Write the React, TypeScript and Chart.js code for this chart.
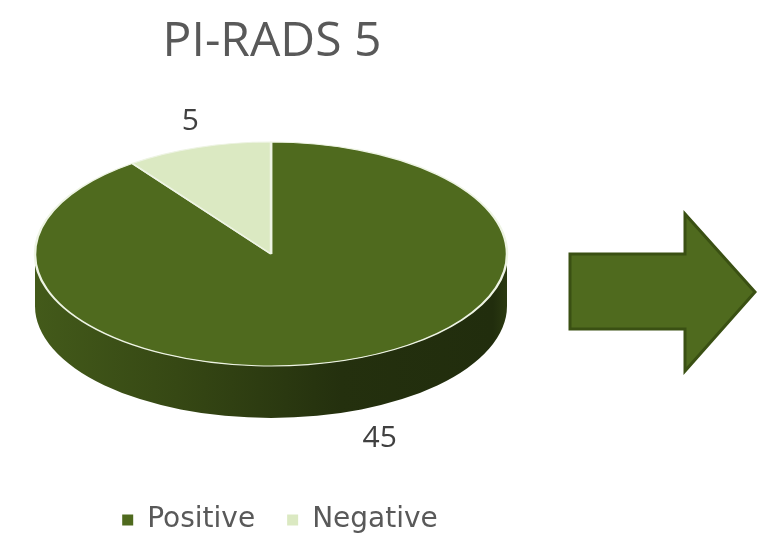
import React, { useEffect, useRef } from "react";
import { Chart, registerables } from "chart.js";

Chart.register(...registerables);

const TITLE = "PI-RADS 5";
const CATEGORIES = ["Positive", "Negative"];
const VALUES = [45, 5];
const COLORS = ["#4f6a1e", "#dbe9c2"];

// layout of the tilted pie (screen pixels)
const CX = 271;
const CY = 254;
const RX = 236;
const RY = 112;
const DEPTH = 52;
const LEGEND_SHIFT = 8;

function shade(hex: string, f: number) {
  const n = parseInt(hex.slice(1), 16);
  const r = Math.round(((n >> 16) & 255) * f);
  const g = Math.round(((n >> 8) & 255) * f);
  const b = Math.round((n & 255) * f);
  return `rgb(${r},${g},${b})`;
}

const pie3d = {
  id: "pie3d",
  afterLayout(chart: any) {
    if (chart.legend) {
      chart.legend.left += LEGEND_SHIFT;
      chart.legend.right += LEGEND_SHIFT;
    }
  },
  beforeDatasetsDraw(chart: any) {
    const ctx = chart.ctx;
    const meta = chart.getDatasetMeta(0);
    const arcs = meta.data;
    arcs.forEach((arc: any, i: number) => {
      const a1 = arc.startAngle;
      const a2 = arc.endAngle;
      const segs: [number, number][] = [];
      for (const k of [-2, 0, 2]) {
        const s = Math.max(a1 + k * Math.PI, 0);
        const e = Math.min(a2 + k * Math.PI, Math.PI);
        if (e > s) segs.push([s, e]);
      }
      const base = COLORS[i % COLORS.length];
      segs.forEach(([s, e]) => {
        const g = ctx.createLinearGradient(CX - RX, 0, CX + RX, 0);
        g.addColorStop(0, shade(base, 0.85));
        g.addColorStop(0.3, shade(base, 0.68));
        g.addColorStop(0.65, shade(base, 0.45));
        g.addColorStop(0.97, shade(base, 0.42));
        g.addColorStop(1, shade(base, 0.55));
        ctx.save();
        ctx.beginPath();
        ctx.ellipse(CX, CY, RX, RY, 0, s, e, false);
        ctx.lineTo(CX + RX * Math.cos(e), CY + DEPTH + RY * Math.sin(e));
        ctx.ellipse(CX, CY + DEPTH, RX, RY, 0, e, s, true);
        ctx.closePath();
        ctx.fillStyle = g;
        ctx.fill();
        ctx.restore();
      });
    });
    const arc0 = arcs[0];
    ctx.save();
    ctx.translate(CX, CY);
    ctx.scale(1, RY / RX);
    ctx.translate(-arc0.x, -arc0.y);
  },
  afterDatasetsDraw(chart: any) {
    const ctx = chart.ctx;
    ctx.restore();
    const meta = chart.getDatasetMeta(0);
    ctx.save();
    ctx.font = "30px 'Open Sans'";
    ctx.fillStyle = "#404040";
    ctx.textAlign = "center";
    ctx.textBaseline = "middle";
    meta.data.forEach((arc: any, i: number) => {
      const mid = (arc.startAngle + arc.endAngle) / 2;
      const c = Math.cos(mid);
      const s = Math.sin(mid);
      const x = CX + (RX * 0.98 + 30) * c + (c > 0 ? 28 : 0);
      let y = CY + (RY * 0.98 + 30) * s;
      if (s > 0) y += DEPTH;
      ctx.fillText(String(VALUES[i]), x, y);
    });
    ctx.restore();
  },
  afterDraw(chart: any) {
    const ctx = chart.ctx;
    ctx.save();
    ctx.beginPath();
    ctx.moveTo(570, 254);
    ctx.lineTo(685, 254);
    ctx.lineTo(685, 214);
    ctx.lineTo(755, 292);
    ctx.lineTo(685, 371);
    ctx.lineTo(685, 329);
    ctx.lineTo(570, 329);
    ctx.closePath();
    ctx.fillStyle = "#4f6a1e";
    ctx.fill();
    ctx.lineWidth = 3;
    ctx.lineJoin = "miter";
    ctx.strokeStyle = "#3a5013";
    ctx.stroke();
    ctx.restore();
  },
};

export default function App() {
  const ref = useRef<HTMLCanvasElement | null>(null);
  useEffect(() => {
    document.body.style.margin = "0";
    const canvas = ref.current!;
    const chart = new Chart(canvas, {
      type: "pie",
      data: {
        labels: CATEGORIES,
        datasets: [
          {
            data: VALUES,
            backgroundColor: COLORS,
            borderColor: "#eef4e4",
            borderWidth: 2.5,
            radius: RX,
            clip: false,
          } as any,
        ],
      },
      options: {
        animation: false,
        responsive: false,
        events: [],
        layout: { padding: { left: 0, right: 213, top: 0, bottom: -8 } },
        plugins: {
          title: {
            display: true,
            text: TITLE,
            color: "#595959",
            font: { family: "'Open Sans'", size: 48, weight: "normal" },
            padding: { top: 14, bottom: 10 },
          },
          legend: {
            display: true,
            position: "bottom",
            labels: {
              color: "#595959",
              font: { family: "'DejaVu Sans'", size: 28 },
              boxWidth: 11,
              boxHeight: 11,
              padding: 32,
              generateLabels: (c: any) =>
                (Chart as any).overrides.pie.plugins.legend.labels
                  .generateLabels(c)
                  .map((l: any) => ({ ...l, lineWidth: 0, strokeStyle: "rgba(0,0,0,0)" })),
            },
          },
          tooltip: { enabled: false },
        },
      },
      plugins: [pie3d],
    });
    return () => chart.destroy();
  }, []);
  return (
    <div style={{ position: "absolute", left: 0, top: 0, width: 757, height: 536, background: "#fff" }}>
      <canvas ref={ref} width={757} height={536} style={{ width: 757, height: 536, display: "block" }} />
    </div>
  );
}
